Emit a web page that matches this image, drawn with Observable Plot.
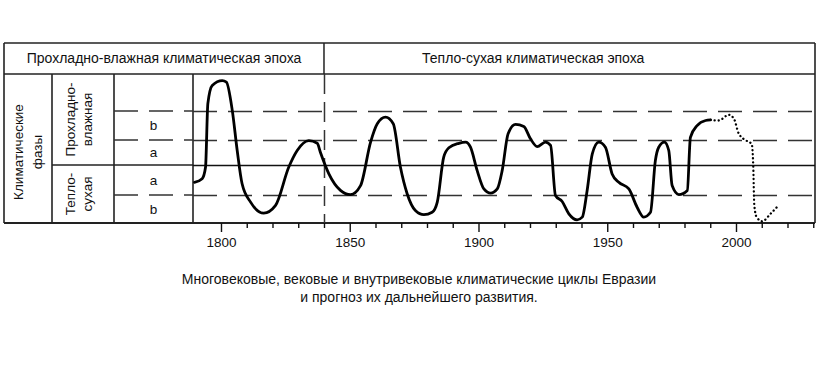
<!DOCTYPE html>
<html><head><meta charset="utf-8">
<script src="https://cdn.jsdelivr.net/npm/d3@7"></script>
<script src="https://cdn.jsdelivr.net/npm/@observablehq/plot@0.6"></script>
<style>
body{margin:0;background:#fff;font-family:"Liberation Sans",Arial,sans-serif;}
#chart svg{display:block}
#caption{width:826px;margin-left:6px;text-align:center;font-size:14px;line-height:18px;color:#111;margin-top:10px}
</style></head><body>
<div id="chart"></div>
<div id="caption">Многовековые, вековые и внутривековые климатические циклы Евразии<br>и прогноз их дальнейшего развития.</div>
<script>
// observed climatic index (0 = boundary between warm-dry and cool-humid phases)
const years = [1789.5,1792.5,1793.8,1794.7,1796.4,1800.3,1801.9,1804.2,1806.1,1808,1811.3,1816.4,1821,1826.1,1829.4,1833.9,1837.2,1838.4,1841.7,1846.2,1850.1,1854,1857.9,1860.5,1863.7,1866.7,1869.5,1872.1,1875.3,1878.6,1881.8,1883.8,1886.3,1888.3,1892.2,1894.8,1896.7,1899.3,1901.9,1904.5,1907.1,1909,1911.3,1914.2,1917.4,1920,1922.6,1925.8,1927.8,1929.7,1932.3,1934.9,1938.1,1940.1,1942,1944,1946.5,1949.1,1951.7,1954.3,1958.2,1961.4,1964,1966.6,1968.5,1969.8,1972,1973.7,1975,1977.6,1980.9,1982.1,1984.7,1988,1989.9];
const index = [-0.56,-0.44,-0.06,2.06,2.67,2.83,2.78,1.83,0.5,-0.61,-1.22,-1.59,-1.33,-0.06,0.5,0.83,0.74,0.44,-0.28,-0.83,-0.97,-0.67,0.78,1.39,1.61,1.39,-0.06,-0.94,-1.5,-1.64,-1.56,-1.22,0.28,0.59,0.74,0.78,0.61,-0.17,-0.78,-0.92,-0.78,-0.17,1.06,1.37,1.3,0.89,0.63,0.78,0.67,-1.0,-1.2,-1.61,-1.81,-1.72,-0.83,0.39,0.78,0.61,-0.28,-0.56,-0.78,-1.39,-1.72,-1.56,0.17,0.61,0.78,0.5,-0.67,-0.97,-0.83,0.94,1.33,1.5,1.52];
// forecast (dotted)
const forecastYears = [1989.9,1993.1,1997,1999,2000.9,2004.2,2005.9,2006.5,2006.9,2007.8,2010,2013.2,2016];
const forecastIndex = [1.52,1.5,1.69,1.56,1.06,0.81,0.72,0.0,-1.3,-1.72,-1.86,-1.61,-1.36];
// phase boundaries
const zeroLevel = 0;
const dashedLevels = [1.8, 0.833, -1.0];
const phaseLabels = ["b","a","a","b"];
const phaseLabelLevels = [1.317, 0.417, -0.5, -1.467];
const epochBoundary = 1840;
const epochs = ["Прохладно-влажная климатическая эпоха","Тепло-сухая климатическая эпоха"];
const colTitle = ["Климатические","фазы"];
const coolTitle = ["Прохладно-","влажная"];
const warmTitle = ["Тепло-","сухая"];
const majorTicks = [1800,1850,1900,1950,2000];
const minorTicks = [1810,1820,1830,1840,1860,1870,1880,1890,1910,1920,1930,1940,1960,1970,1980,1990,2010,2020,2030];

(function(){
const series = years.map((y,i)=>({year:y, value:index[i]}));
const forecast = forecastYears.map((y,i)=>({year:y, value:forecastIndex[i]}));

const FONT = "'Liberation Sans', Arial, sans-serif";
const plot = Plot.plot({
  width: 826, height: 260,
  marginLeft: 193, marginRight: 11, marginTop: 74, marginBottom: 37,
  x: {domain: [1789.13, 2030.68], label: null},
  y: {domain: [-1.933, 3.033], axis: null},
  style: {fontFamily: FONT, fontSize: "13.5px", color: "#111", background: "#fff"},
  marks: [
    Plot.ruleY(dashedLevels, {stroke: "#333", strokeWidth: 1.5, strokeDasharray: "24,11"}),
    Plot.ruleY([zeroLevel], {stroke: "#111", strokeWidth: 1.3}),
    Plot.ruleX([epochBoundary], {stroke: "#333", strokeWidth: 1.5, strokeDasharray: "20,8"}),
    Plot.line(series, {x: "year", y: "value", curve: "monotone-x", stroke: "#000", strokeWidth: 2.8, strokeLinejoin: "round", strokeLinecap: "round"}),
    Plot.line(forecast, {x: "year", y: "value", curve: "monotone-x", stroke: "#000", strokeWidth: 2.3, strokeDasharray: "0.1,4", strokeLinecap: "round"}),
    Plot.axisX({ticks: minorTicks, tickSize: 5, tickFormat: () => "", label: null, strokeWidth: 1.4}),
    Plot.axisX({ticks: majorTicks, tickSize: 9, tickPadding: 5, tickFormat: d => String(d), label: null, strokeWidth: 1.4})
  ]
});
document.getElementById("chart").appendChild(plot);

// table frame and labels
const sx = plot.scale("x"), sy = plot.scale("y");
const X = v => sx.apply(v), Y = v => sy.apply(v);
const yTop = 43, yHead = 74, xLeft = 4, col1 = 52, col2 = 114;
const plotLeft = X(sx.domain[0]), xRight = X(sx.domain[1]), yBottom = Y(sy.domain[0]);
const svg = d3.select(plot);
const g = svg.insert("g", "g").attr("stroke", "#222").attr("fill", "none");
const line = (x1,y1,x2,y2,w=1.6,dash=null) => {
  const l = g.append("line").attr("x1",x1).attr("y1",y1).attr("x2",x2).attr("y2",y2).attr("stroke-width",w);
  if (dash) l.attr("stroke-dasharray", dash).attr("stroke","#333");
};
line(xLeft, yTop, xRight, yTop);
line(xLeft, yHead, xRight, yHead);
line(xLeft, yBottom, xRight, yBottom, 2);
line(xLeft, yTop, xLeft, yBottom);
line(xRight, yTop, xRight, yBottom);
line(col1, yHead, col1, yBottom);
line(col2, yHead, col2, yBottom);
line(plotLeft, yHead, plotLeft, yBottom, 1.6);
line(X(epochBoundary), yTop, X(epochBoundary), yHead, 1.5);
line(col1, Y(zeroLevel), plotLeft, Y(zeroLevel), 1.3);
dashedLevels.forEach(v => line(col2, Y(v), plotLeft, Y(v), 1.5, "24,11"));

const t = svg.append("g").attr("fill", "#111").attr("font-family", FONT).attr("font-size", "13.5px");
t.append("text").attr("x", (xLeft + X(epochBoundary))/2).attr("y", (yTop+yHead)/2).attr("dy","0.35em").attr("text-anchor","middle").attr("font-size","14px").text(epochs[0]);
t.append("text").attr("x", 422).attr("y", (yTop+yHead)/2).attr("dy","0.35em").attr("text-anchor","start").attr("font-size","14px").text(epochs[1]);
phaseLabels.forEach((s,i) => t.append("text").attr("x",(col2+plotLeft)/2).attr("y",Y(phaseLabelLevels[i])).attr("dy","0.35em").attr("text-anchor","middle").text(s));
function rotLabel(lines, cx, cy, gap){
  const gg = t.append("g").attr("transform", `translate(${cx},${cy}) rotate(-90)`);
  lines.forEach((s,i) => gg.append("text").attr("x",0).attr("y",(i-(lines.length-1)/2)*gap).attr("dy","0.35em").attr("text-anchor","middle").text(s));
}
rotLabel(colTitle, (xLeft+col1)/2, 152, 19);
rotLabel(coolTitle, 79, (yHead+Y(zeroLevel))/2, 16.5);
rotLabel(warmTitle, 79, (Y(zeroLevel)+yBottom)/2, 16.5);
})();
</script>
</body></html>
